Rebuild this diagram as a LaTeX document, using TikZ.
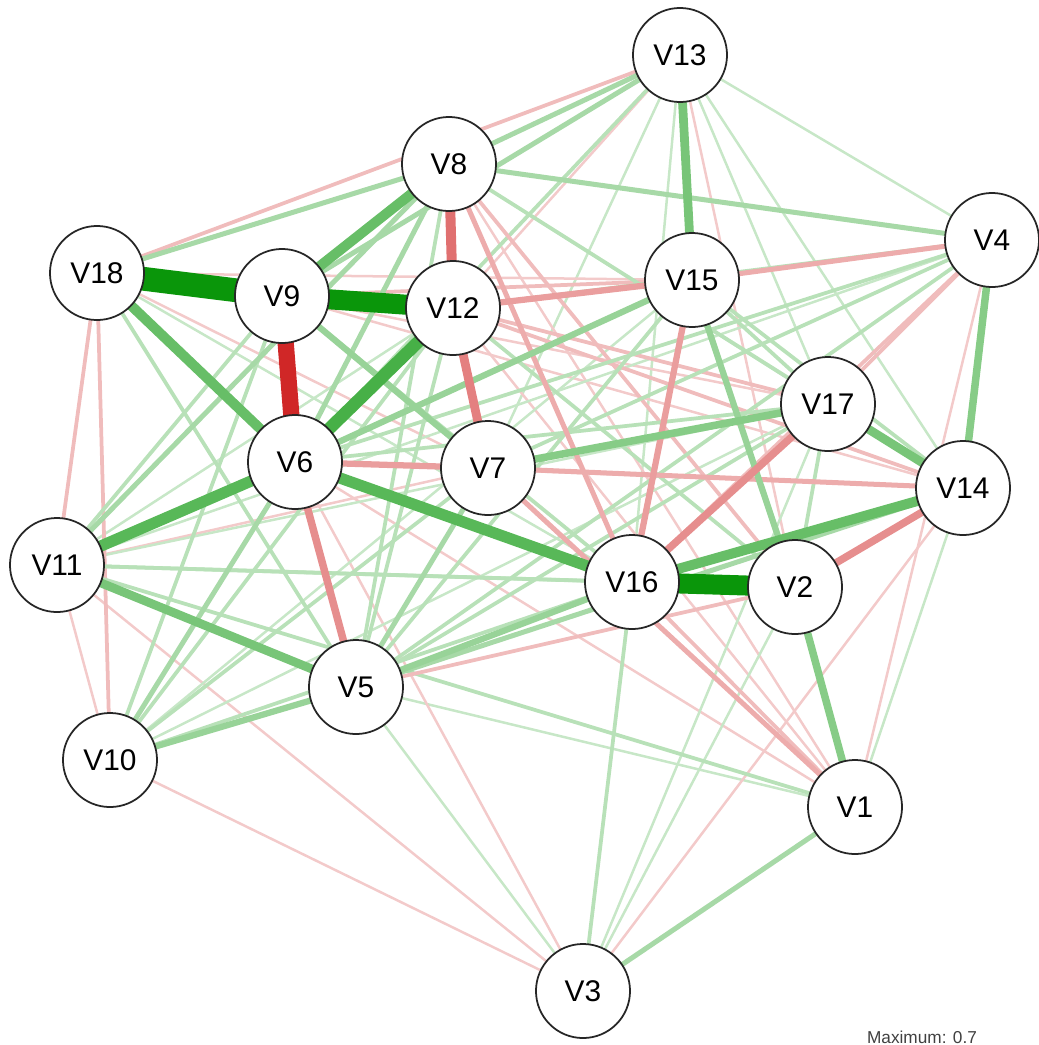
\documentclass[tikz,border=0pt]{standalone}
\usepackage{fontspec}
\setmainfont{Liberation Sans}
\usetikzlibrary{backgrounds}
\definecolor{posc}{RGB}{10,150,10}
\definecolor{negc}{RGB}{205,25,25}
\tikzset{var/.style={circle,draw=black!85,fill=white,line width=0.5pt,minimum size=0.94cm,inner sep=0pt,font=\fontsize{8.5}{10}\selectfont}}

\begin{document}
\begin{tikzpicture}[x=0.01cm,y=-0.01cm]
        \useasboundingbox (0,0) rectangle (1038,1045);
        % nodes, positions in pixels of the plot
        \node[var] (v13) at (680,55) {V13};
        \node[var] (v8) at (449,164) {V8};
        \node[var] (v4) at (992,240) {V4};
        \node[var] (v18) at (97,273) {V18};
        \node[var] (v15) at (692,280) {V15};
        \node[var] (v9) at (282,296) {V9};
        \node[var] (v12) at (453,308) {V12};
        \node[var] (v17) at (828,404) {V17};
        \node[var] (v6) at (295,462) {V6};
        \node[var] (v7) at (488,468) {V7};
        \node[var] (v14) at (963,488) {V14};
        \node[var] (v11) at (57,565) {V11};
        \node[var] (v16) at (632,582) {V16};
        \node[var] (v2) at (795,587) {V2};
        \node[var] (v5) at (356,687) {V5};
        \node[var] (v10) at (110,760) {V10};
        \node[var] (v1) at (855,807) {V1};
        \node[var] (v3) at (583,991) {V3};
        \node[font=\fontsize{4.9}{6}\selectfont,text=black!75] (maxlab) at (922,1037) {Maximum: 0.7};
        % edges: from/to/sign/width (weak ones first)
        \begin{scope}[on background layer]
        \foreach \a/\b/\s/\w in {
            v13/v4/posc/2, v13/v14/posc/2, v13/v17/posc/2, v13/v2/negc/2, v13/v16/posc/2,
            v13/v12/negc/2, v13/v7/posc/2, v11/v10/negc/2, v11/v3/negc/2, v11/v7/negc/2,
            v10/v3/negc/2, v5/v3/posc/2, v5/v1/posc/2, v4/v1/negc/2, v14/v3/negc/2,
            v14/v1/posc/2, v9/v14/negc/2, v9/v17/negc/2, v18/v7/negc/2, v18/v16/posc/2,
            v6/v14/negc/2, v6/v3/negc/2, v6/v1/negc/2, v12/v1/negc/2, v8/v1/negc/2,
            v10/v17/posc/2, v11/v17/posc/2, v11/v12/posc/2, v4/v11/posc/2, v3/v2/posc/2,
            v3/v17/posc/2, v8/v17/posc/2, v15/v10/posc/2, v18/v12/negc/2, v18/v15/negc/2,
            v13/v18/negc/3, v13/v6/posc/3, v11/v18/negc/3, v18/v10/negc/3, v11/v1/posc/3,
            v11/v2/posc/3, v16/v3/posc/3, v16/v1/negc/3, v16/v11/posc/3, v16/v10/posc/3,
            v16/v4/negc/3, v9/v11/posc/3, v9/v16/posc/3, v9/v15/negc/3, v9/v10/posc/3,
            v8/v14/posc/3, v8/v2/negc/3, v8/v5/posc/3, v12/v4/posc/3, v12/v14/negc/3,
            v12/v17/negc/3, v12/v10/posc/3, v12/v5/posc/3, v12/v2/posc/3, v6/v4/posc/3,
            v6/v17/posc/3, v7/v10/posc/3, v7/v4/posc/3, v15/v14/posc/3, v15/v17/posc/3,
            v15/v5/posc/3, v17/v4/negc/3, v17/v2/posc/3, v17/v5/posc/3, v2/v5/negc/3,
            v5/v4/posc/3, v18/v5/posc/3,
            v1/v3/posc/4, v11/v8/posc/4, v18/v8/posc/4, v8/v6/posc/4, v8/v4/posc/4,
            v8/v16/negc/4, v6/v10/posc/4, v7/v14/negc/4, v7/v1/negc/4, v7/v5/posc/4,
            v15/v4/negc/4, v5/v14/posc/4, v13/v8/posc/4, v13/v9/posc/4,
            v6/v7/negc/5, v9/v7/posc/5, v15/v16/negc/5, v15/v2/posc/5, v15/v6/posc/5,
            v12/v15/negc/5, v10/v5/posc/5, v5/v16/posc/5,
            v6/v5/negc/6, v17/v16/negc/6, v2/v14/negc/6, v4/v14/posc/6, v2/v1/posc/6,
            v17/v7/posc/6,
            v13/v15/posc/7, v11/v5/posc/7, v17/v14/posc/7, v12/v7/negc/7,
            v18/v6/posc/8, v16/v14/posc/8, v8/v9/posc/8, v8/v12/negc/8,
            v6/v11/posc/9, v6/v16/posc/9, v12/v6/posc/10, v9/v6/negc/13,
            v9/v12/posc/16, v16/v2/posc/16, v18/v9/posc/19}{
            \pgfmathtruncatemacro\ecol{min(100,10+6.5*\w)}
            \pgfmathsetmacro\ewid{\w*0.356}
            \draw[draw=\s!\ecol!white,line width=\ewid pt] (\a.center) -- (\b.center);
        }
        \end{scope}
      \end{tikzpicture}
\end{document}
